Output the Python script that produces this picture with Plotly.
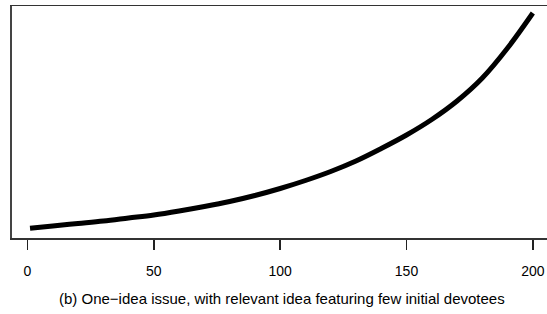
import plotly.graph_objects as go

steps = [1, 10, 20, 30, 40, 50, 60, 70, 80, 90, 100, 110, 120, 130, 140, 150, 160, 170, 180, 190, 200]
share = [9.7, 12, 14.5, 17, 20, 23, 27, 31.5, 36.5, 42.5, 49.5, 57.5, 66.5, 77, 89.5, 103, 118.5, 137, 160, 190, 225]
xticks = [0, 50, 100, 150, 200]
caption = "(b) One\u2212idea issue, with relevant idea featuring few initial devotees"

fig = go.Figure()
fig.add_trace(go.Scatter(x=steps, y=share, mode="lines",
                         line=dict(color="black", width=5, shape="spline"),
                         showlegend=False, hoverinfo="skip"))

fig.update_layout(
    width=547, height=314,
    margin=dict(l=12, r=0, t=6, b=76, autoexpand=False),
    paper_bgcolor="white", plot_bgcolor="white",
    font=dict(family="Liberation Sans, Arial, sans-serif", color="black"),
    xaxis=dict(range=[-6.13, 205.6], tickvals=xticks, ticktext=[str(v) for v in xticks],
               ticks="outside", ticklen=10, tickwidth=1.5, tickcolor="#222",
               showline=True, linecolor="#333", linewidth=1.5, mirror=True,
               showgrid=False, zeroline=False, tickfont=dict(size=14),
               ticklabelstandoff=10, automargin=False),
    yaxis=dict(range=[0, 232], showticklabels=False, ticks="",
               showline=True, linecolor="#444", linewidth=2, mirror=False,
               showgrid=False, zeroline=False, automargin=False),
    annotations=[dict(text=caption, x=(282 - 12) / 535, xref="paper",
                      y=-(298 - 238) / 232, yref="paper", yanchor="middle",
                      showarrow=False, font=dict(size=15))],
)

fig.write_html("out.html", config={"displayModeBar": False, "staticPlot": True},
               post_script="document.body.style.margin='0';document.body.style.padding='0';")
